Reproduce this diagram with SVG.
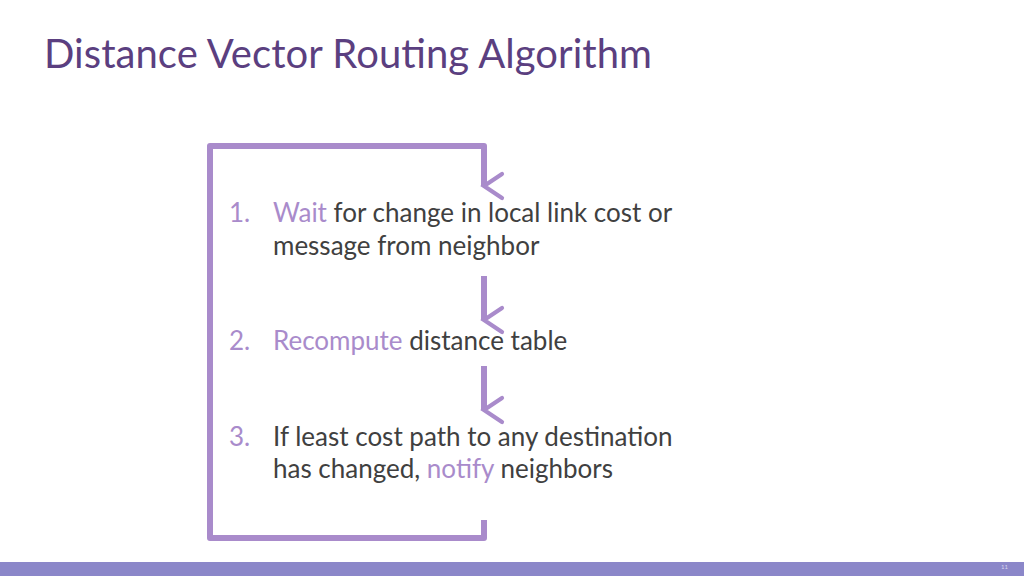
<svg xmlns="http://www.w3.org/2000/svg" width="1024" height="576" viewBox="0 0 1024 576">
<defs>
<style>
.t{font-family:Lato,"Open Sans",sans-serif;font-size:26px;fill:#404040}
.a{fill:#A98BCB}
.ln{fill:none;stroke:#A98BCB;stroke-width:6;stroke-linejoin:round}
</style>
<marker id="ah" viewBox="0 0 10 10" refX="5" refY="7" markerWidth="5" markerHeight="5" orient="auto-start-reverse" markerUnits="strokeWidth">
<path d="M1,1 L5,7 L9,1" fill="none" stroke="#A98BCB" stroke-width="1.4" stroke-linecap="round"/>
</marker>
</defs>
<rect width="1024" height="576" fill="#fff"/>
<text x="44" y="68" font-family="Lato,'Open Sans',sans-serif" font-size="40" fill="#5B3F80" textLength="608">Distance Vector Routing Algorithm</text>
<g id="connectors">
<path class="ln" d="M484,520 V538 H210 V146 H484 V186" marker-end="url(#ah)"/>
<path class="ln" d="M484,276 V320" marker-end="url(#ah)"/>
<path class="ln" d="M484,366 V410" marker-end="url(#ah)"/>
</g>
<g id="step1">
<text class="t" x="229" y="222"><tspan class="a">1.</tspan><tspan class="a" x="273">Wait</tspan> for change in local link cost or</text>
<text class="t" x="273" y="255">message from neighbor</text>
</g>
<g id="step2">
<text class="t" x="229" y="350"><tspan class="a">2.</tspan><tspan class="a" x="273">Recompute</tspan> distance table</text>
</g>
<g id="step3">
<text class="t" x="229" y="446"><tspan class="a">3.</tspan><tspan x="273">If least cost path to any destination</tspan></text>
<text class="t" x="273" y="478">has changed, <tspan class="a">notify</tspan> neighbors</text>
</g>
<rect x="0" y="562" width="1024" height="14" fill="#8B87C9"/>
<text x="1001" y="569" font-family="Lato,sans-serif" font-size="6" fill="#D8D6EE">11</text>
</svg>
